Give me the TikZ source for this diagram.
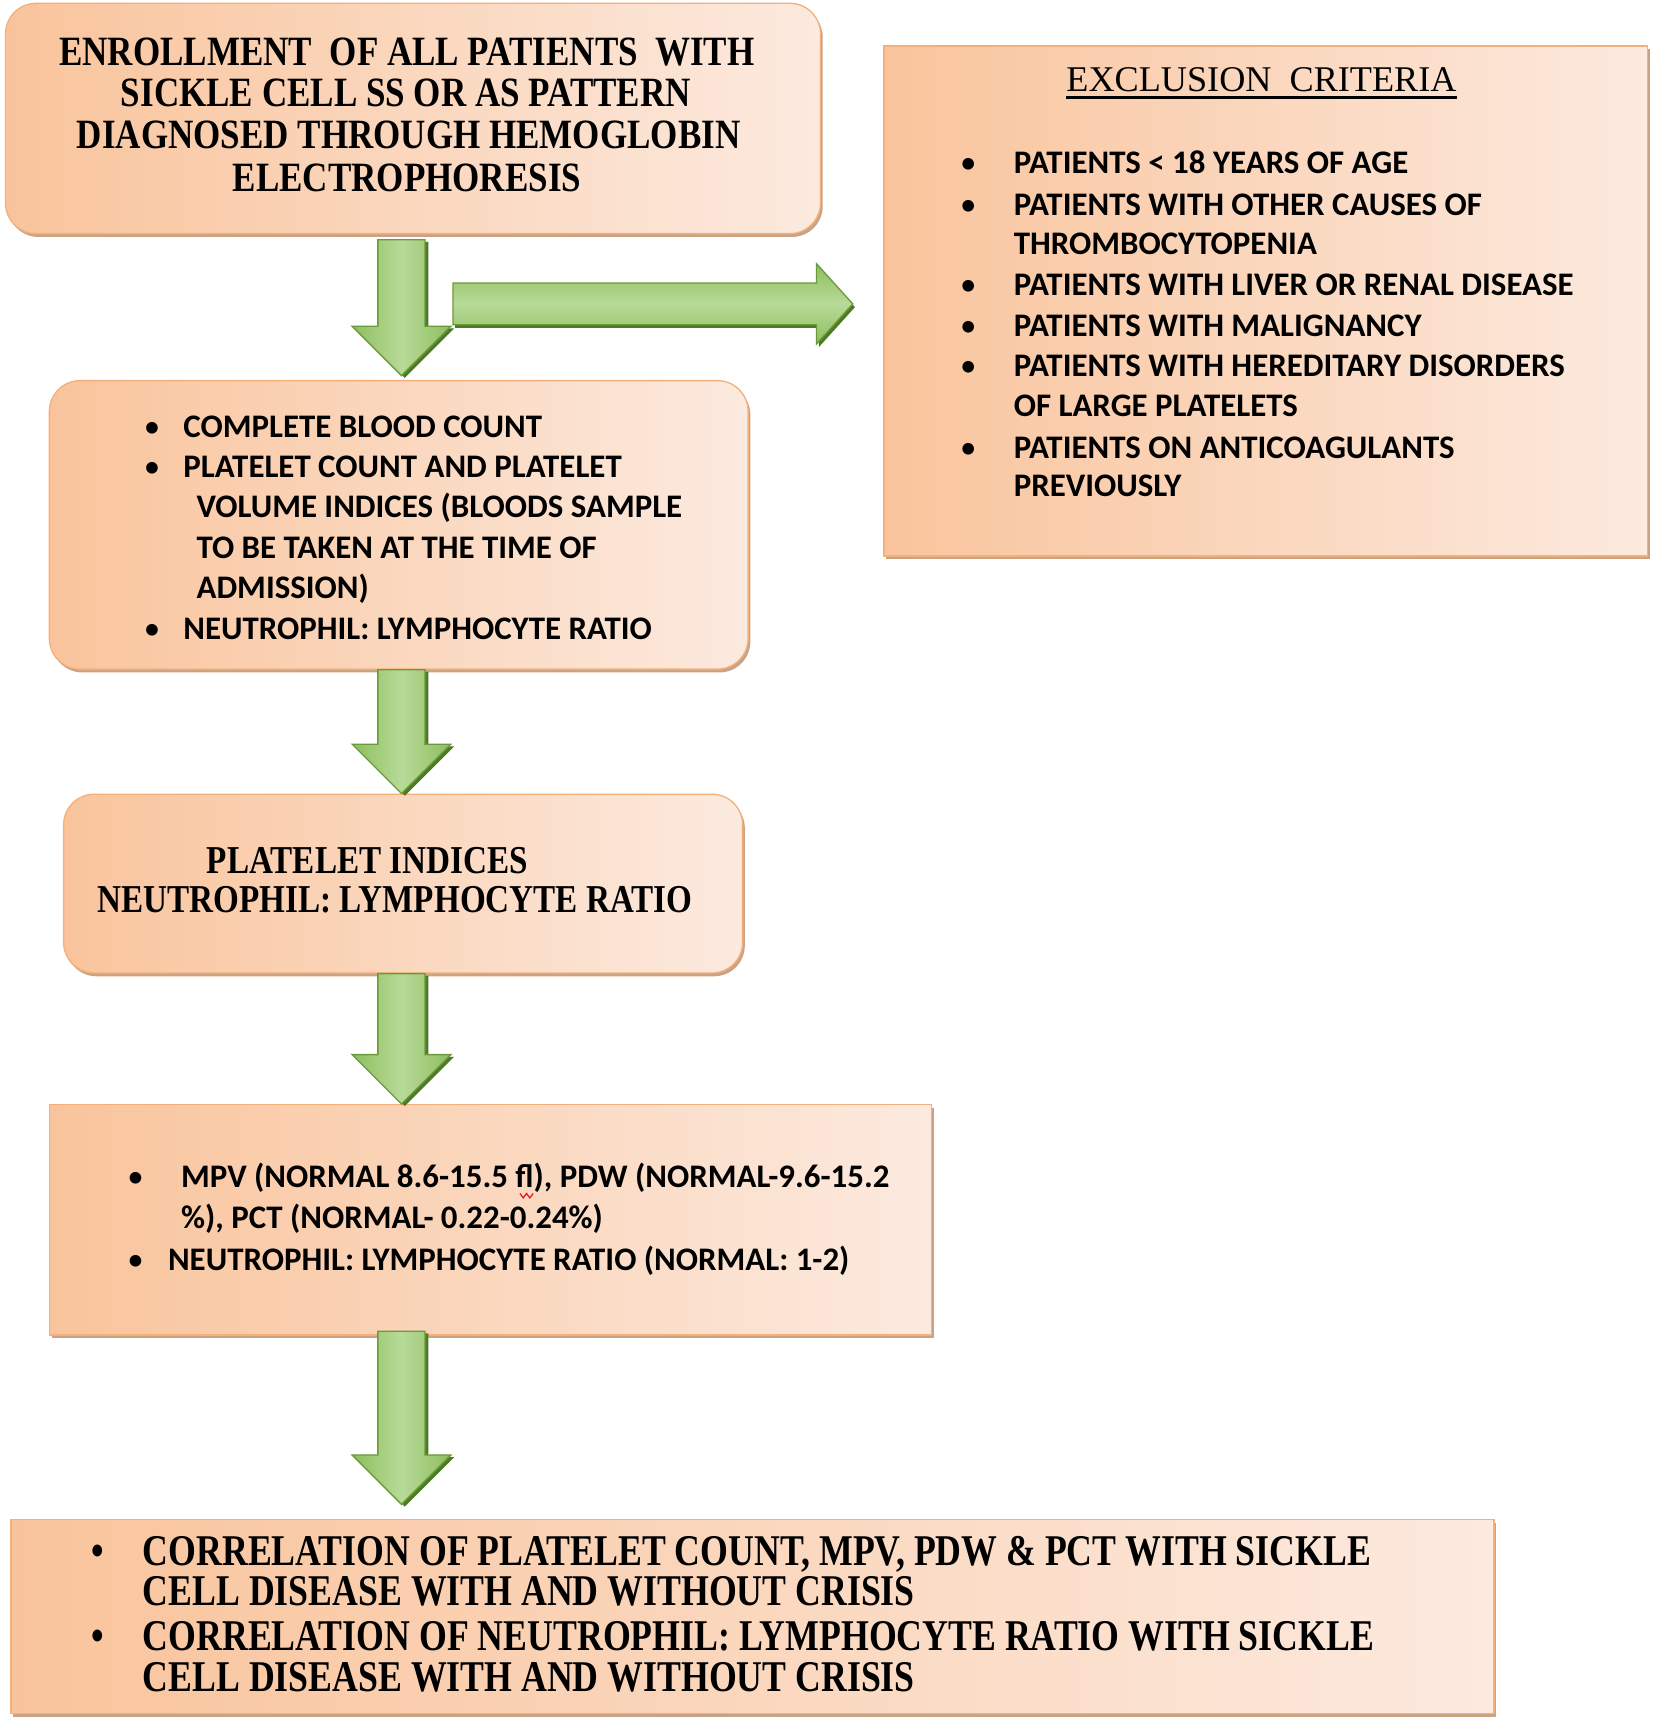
\documentclass[tikz,border=0pt]{standalone}
\usepackage{fontspec}
\usetikzlibrary{calc,shadows}
\newfontfamily\serifA[FakeStretch=0.84]{Liberation Serif}
\newfontfamily\serifC[FakeStretch=0.815]{Liberation Serif}
\newfontfamily\serifT{Liberation Serif}
\newfontfamily\sansB{Carlito}
\definecolor{peachA}{HTML}{F9C49C}
\definecolor{peachB}{HTML}{FCEADF}
\definecolor{peachEdge}{HTML}{F4B07A}
\definecolor{boxShadow}{HTML}{C9A383}
\definecolor{greenA}{HTML}{8DBE5F}
\definecolor{greenB}{HTML}{B8DA98}
\definecolor{greenEdge}{HTML}{6A9A3A}
\definecolor{greenShadow}{HTML}{4E7A26}
\definecolor{spellred}{HTML}{E02020}
\newcommand\vblockarrow[2]{%
  \path[garrowv] let \p1=(#1), \p2=(#2) in
    (\x1-21.5pt,\y1) -- (\x1+21.5pt,\y1) -- (\x1+21.5pt,\y2+45pt) -- (\x1+45pt,\y2+45pt)
    -- (\x1,\y2) -- (\x1-45pt,\y2+45pt) -- (\x1-21.5pt,\y2+45pt) -- cycle;}
\newcommand\sbul[1]{\makebox[#1][l]{\mdseries •}}
\begin{document}
\begin{tikzpicture}[x=1pt,y=-1pt,
  boxbase/.style={draw=peachEdge, line width=1.2pt, left color=peachA, right color=peachB, inner sep=0pt,
    drop shadow={shadow xshift=2pt, shadow yshift=-3pt, fill=boxShadow, opacity=1}},
  roundbox/.style={boxbase, rounded corners=28pt},
  sqbox/.style={boxbase},
  garrowv/.style={draw=greenEdge, line width=1.2pt, left color=greenA, right color=greenA, middle color=greenB,
    drop shadow={shadow xshift=3pt, shadow yshift=-2pt, fill=greenShadow, opacity=1}},
  garrowh/.style={draw=greenEdge, line width=1.2pt, top color=greenA, bottom color=greenA, middle color=greenB,
    drop shadow={shadow xshift=2pt, shadow yshift=-3pt, fill=greenShadow, opacity=1}},
  serifL/.style={font=\serifA\bfseries\fontsize{38}{38}\selectfont, anchor=base, inner sep=0pt},
  serifM/.style={font=\serifA\bfseries\fontsize{36}{36}\selectfont, anchor=base, inner sep=0pt},
  serifW/.style={font=\serifC\bfseries\fontsize{40}{40}\selectfont, anchor=base west, inner sep=0pt},
  titleL/.style={font=\serifT\fontsize{33}{33}\selectfont, anchor=base, inner sep=0pt},
  sansL/.style={font=\sansB\bfseries\fontsize{30}{30}\selectfont, anchor=base west, inner sep=0pt}
]
\fill[white] (0,0) rectangle (1507.5,1568);
\useasboundingbox (0,0) rectangle (1507.5,1568);

% boxes
\node[roundbox, minimum width=743pt, minimum height=210pt] (b1) at (376.5,108) {};
\node[sqbox, minimum width=696pt, minimum height=465pt] (ex) at (1154,274.5) {};
\node[roundbox, minimum width=637pt, minimum height=263pt] (b2) at (363.5,478.5) {};
\node[roundbox, minimum width=619pt, minimum height=163pt] (b3) at (367.5,805.5) {};
\node[sqbox, minimum width=804pt, minimum height=210pt] (b4) at (447,1112) {};
\node[sqbox, minimum width=1352pt, minimum height=177pt] (b5) at (686,1473.5) {};

% box 1 text
\node[serifL] (b1l1) at (371,59.5) {ENROLLMENT\ \ OF ALL PATIENTS\ \ WITH};
\node[serifL] (b1l2) at (370,97.5) {SICKLE CELL SS OR AS PATTERN};
\node[serifL] (b1l3) at (372.5,135.5) {DIAGNOSED THROUGH HEMOGLOBIN};
\node[serifL] (b1l4) at (371,174.5) {ELECTROPHORESIS};

% exclusion criteria
\node[titleL] (ext) at (1150,83) {EXCLUSION\ \ CRITERIA};
\draw[line width=2.2pt] ($(ext.base west)+(0,6)$) -- ($(ext.base east)+(0,6)$);
\node[sansL] (ex1) at (875,158) {\sbul{49pt}PATIENTS < 18 YEARS OF AGE};
\node[sansL] (ex2) at (875,196) {\sbul{49pt}PATIENTS WITH OTHER CAUSES OF};
\node[sansL] (ex3) at (924,232) {THROMBOCYTOPENIA};
\node[sansL] (ex4) at (875,269) {\sbul{49pt}PATIENTS WITH LIVER OR RENAL DISEASE};
\node[sansL] (ex5) at (875,307) {\sbul{49pt}PATIENTS WITH MALIGNANCY};
\node[sansL] (ex6) at (875,343) {\sbul{49pt}PATIENTS WITH HEREDITARY DISORDERS};
\node[sansL] (ex7) at (924,380) {OF LARGE PLATELETS};
\node[sansL] (ex8) at (875,418) {\sbul{49pt}PATIENTS ON ANTICOAGULANTS};
\node[sansL] (ex9) at (924,453) {PREVIOUSLY};

% box 2 text
\node[sansL] (b2l1) at (131,399) {\sbul{36pt}COMPLETE BLOOD COUNT};
\node[sansL] (b2l2) at (131,435) {\sbul{36pt}PLATELET COUNT AND PLATELET};
\node[sansL] (b2l3) at (179,472) {VOLUME INDICES (BLOODS SAMPLE};
\node[sansL] (b2l4) at (179,509) {TO BE TAKEN AT THE TIME OF};
\node[sansL] (b2l5) at (179,546) {ADMISSION)};
\node[sansL] (b2l6) at (131,583) {\sbul{36pt}NEUTROPHIL: LYMPHOCYTE RATIO};

% box 3 text
\node[serifM] (b3l1) at (335,796) {PLATELET INDICES};
\node[serifM] (b3l2) at (360,832) {NEUTROPHIL: LYMPHOCYTE RATIO};

% box 4 text
\node[sansL] (b4l1) at (116,1083) {\sbul{49pt}MPV (NORMAL 8.6-15.5 fl), PDW (NORMAL-9.6-15.2};
\node[sansL] (b4l2) at (165,1120) {\%), PCT (NORMAL- 0.22-0.24\%)};
\node[sansL] (b4l3) at (116,1158) {\sbul{37pt}NEUTROPHIL: LYMPHOCYTE RATIO (NORMAL: 1-2)};
\draw[spellred, line width=1.2pt] (474,1088) -- (477,1092) -- (480,1088) -- (483,1092) -- (486,1088);

% box 5 text
\node[serifW] (b5l1) at (83,1427) {\makebox[47pt][l]{•}CORRELATION OF PLATELET COUNT, MPV, PDW \& PCT WITH SICKLE};
\node[serifW] (b5l2) at (130,1464) {CELL DISEASE WITH AND WITHOUT CRISIS};
\node[serifW] (b5l3) at (83,1505) {\makebox[47pt][l]{•}CORRELATION OF NEUTROPHIL: LYMPHOCYTE RATIO WITH SICKLE};
\node[serifW] (b5l4) at (130,1542) {CELL DISEASE WITH AND WITHOUT CRISIS};

% arrows
\coordinate (ax) at (366,0);
\vblockarrow{$(b1.south -| ax)+(0,5)$}{$(b2.north -| ax)+(0,-4)$}
\vblockarrow{$(b2.south -| ax)$}{$(b3.north -| ax)$}
\vblockarrow{$(b3.south -| ax)$}{$(b4.north -| ax)$}
\vblockarrow{$(b4.south -| ax)+(0,-4)$}{$(b5.north -| ax)+(0,-13)$}
\coordinate (rs) at (413,277);
\coordinate (re) at ($(ex.west |- rs)+(-28,0)$);
\path[garrowh] let \p1=(rs), \p2=(re) in
  (\x1,\y1+19pt) -- (\x2-33pt,\y1+19pt) -- (\x2-33pt,\y1+36.5pt) -- (\x2,\y2)
  -- (\x2-33pt,\y1-36.5pt) -- (\x2-33pt,\y1-19pt) -- (\x1,\y1-19pt) -- cycle;
\end{tikzpicture}
\end{document}
